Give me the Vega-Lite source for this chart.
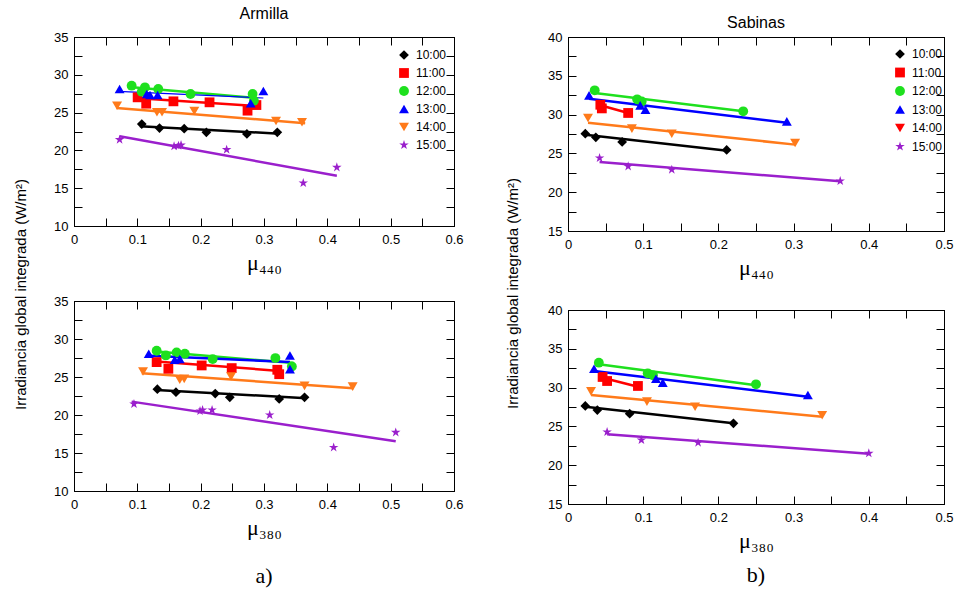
{
"$schema":"https://vega.github.io/schema/vega-lite/v6.json",
"padding":{"left":12,"top":5,"right":0,"bottom":0},
"datasets":{
"pts":[
{"panel":"A440","hour":"10:00","mu":0.107,"irr":23.49},{"panel":"A440","hour":"10:00","mu":0.135,"irr":22.96},{"panel":"A440","hour":"10:00","mu":0.174,"irr":22.87},{"panel":"A440","hour":"10:00","mu":0.209,"irr":22.39},{"panel":"A440","hour":"10:00","mu":0.273,"irr":22.17},{"panel":"A440","hour":"10:00","mu":0.321,"irr":22.39},
{"panel":"A440","hour":"11:00","mu":0.1005,"irr":27.02},{"panel":"A440","hour":"11:00","mu":0.114,"irr":26.18},{"panel":"A440","hour":"11:00","mu":0.157,"irr":26.49},{"panel":"A440","hour":"11:00","mu":0.214,"irr":26.36},{"panel":"A440","hour":"11:00","mu":0.274,"irr":25.26},{"panel":"A440","hour":"11:00","mu":0.288,"irr":26.0},
{"panel":"A440","hour":"12:00","mu":0.091,"irr":28.56},{"panel":"A440","hour":"12:00","mu":0.107,"irr":27.77},{"panel":"A440","hour":"12:00","mu":0.112,"irr":28.34},{"panel":"A440","hour":"12:00","mu":0.133,"irr":28.12},{"panel":"A440","hour":"12:00","mu":0.184,"irr":27.46},{"panel":"A440","hour":"12:00","mu":0.282,"irr":27.46},{"panel":"A440","hour":"12:00","mu":0.284,"irr":26.58},
{"panel":"A440","hour":"13:00","mu":0.072,"irr":28.12},{"panel":"A440","hour":"13:00","mu":0.115,"irr":27.46},{"panel":"A440","hour":"13:00","mu":0.12,"irr":27.33},{"panel":"A440","hour":"13:00","mu":0.132,"irr":27.33},{"panel":"A440","hour":"13:00","mu":0.279,"irr":26.23},{"panel":"A440","hour":"13:00","mu":0.299,"irr":27.86},
{"panel":"A440","hour":"14:00","mu":0.068,"irr":25.91},{"panel":"A440","hour":"14:00","mu":0.131,"irr":25.04},{"panel":"A440","hour":"14:00","mu":0.139,"irr":25.04},{"panel":"A440","hour":"14:00","mu":0.19,"irr":25.21},{"panel":"A440","hour":"14:00","mu":0.319,"irr":23.89},{"panel":"A440","hour":"14:00","mu":0.36,"irr":23.72},
{"panel":"A440","hour":"15:00","mu":0.072,"irr":21.42},{"panel":"A440","hour":"15:00","mu":0.158,"irr":20.54},{"panel":"A440","hour":"15:00","mu":0.165,"irr":20.63},{"panel":"A440","hour":"15:00","mu":0.169,"irr":20.7},{"panel":"A440","hour":"15:00","mu":0.241,"irr":20.1},{"panel":"A440","hour":"15:00","mu":0.362,"irr":15.69},{"panel":"A440","hour":"15:00","mu":0.415,"irr":17.76},
{"panel":"A380","hour":"10:00","mu":0.1316,"irr":23.39},{"panel":"A380","hour":"10:00","mu":0.161,"irr":23.0},{"panel":"A380","hour":"10:00","mu":0.223,"irr":22.82},{"panel":"A380","hour":"10:00","mu":0.246,"irr":22.33},{"panel":"A380","hour":"10:00","mu":0.324,"irr":22.11},{"panel":"A380","hour":"10:00","mu":0.364,"irr":22.33},
{"panel":"A380","hour":"11:00","mu":0.1305,"irr":26.96},{"panel":"A380","hour":"11:00","mu":0.149,"irr":26.08},{"panel":"A380","hour":"11:00","mu":0.2016,"irr":26.52},{"panel":"A380","hour":"11:00","mu":0.249,"irr":26.17},{"panel":"A380","hour":"11:00","mu":0.321,"irr":25.95},{"panel":"A380","hour":"11:00","mu":0.324,"irr":25.37},
{"panel":"A380","hour":"12:00","mu":0.1305,"irr":28.46},{"panel":"A380","hour":"12:00","mu":0.145,"irr":27.84},{"panel":"A380","hour":"12:00","mu":0.162,"irr":28.24},{"panel":"A380","hour":"12:00","mu":0.175,"irr":28.06},{"panel":"A380","hour":"12:00","mu":0.219,"irr":27.36},{"panel":"A380","hour":"12:00","mu":0.318,"irr":27.49},{"panel":"A380","hour":"12:00","mu":0.344,"irr":26.39},
{"panel":"A380","hour":"13:00","mu":0.118,"irr":28.06},{"panel":"A380","hour":"13:00","mu":0.159,"irr":27.27},{"panel":"A380","hour":"13:00","mu":0.167,"irr":27.36},{"panel":"A380","hour":"13:00","mu":0.341,"irr":27.84},{"panel":"A380","hour":"13:00","mu":0.341,"irr":26.04},
{"panel":"A380","hour":"14:00","mu":0.109,"irr":25.73},{"panel":"A380","hour":"14:00","mu":0.167,"irr":24.63},{"panel":"A380","hour":"14:00","mu":0.174,"irr":24.76},{"panel":"A380","hour":"14:00","mu":0.248,"irr":25.07},{"panel":"A380","hour":"14:00","mu":0.364,"irr":23.83},{"panel":"A380","hour":"14:00","mu":0.44,"irr":23.74},
{"panel":"A380","hour":"15:00","mu":0.0947,"irr":21.45},{"panel":"A380","hour":"15:00","mu":0.199,"irr":20.53},{"panel":"A380","hour":"15:00","mu":0.203,"irr":20.66},{"panel":"A380","hour":"15:00","mu":0.218,"irr":20.66},{"panel":"A380","hour":"15:00","mu":0.309,"irr":20.0},{"panel":"A380","hour":"15:00","mu":0.41,"irr":15.73},{"panel":"A380","hour":"15:00","mu":0.508,"irr":17.71},
{"panel":"S440","hour":"10:00","mu":0.023,"irr":27.54},{"panel":"S440","hour":"10:00","mu":0.037,"irr":27.07},{"panel":"S440","hour":"10:00","mu":0.072,"irr":26.47},{"panel":"S440","hour":"10:00","mu":0.211,"irr":25.44},
{"panel":"S440","hour":"11:00","mu":0.043,"irr":31.27},{"panel":"S440","hour":"11:00","mu":0.045,"irr":30.8},{"panel":"S440","hour":"11:00","mu":0.08,"irr":30.21},
{"panel":"S440","hour":"12:00","mu":0.0355,"irr":33.13},{"panel":"S440","hour":"12:00","mu":0.092,"irr":31.97},{"panel":"S440","hour":"12:00","mu":0.098,"irr":31.7},{"panel":"S440","hour":"12:00","mu":0.233,"irr":30.42},
{"panel":"S440","hour":"13:00","mu":0.028,"irr":32.48},{"panel":"S440","hour":"13:00","mu":0.096,"irr":31.19},{"panel":"S440","hour":"13:00","mu":0.103,"irr":30.64},{"panel":"S440","hour":"13:00","mu":0.291,"irr":29.13},
{"panel":"S440","hour":"14:00","mu":0.0266,"irr":29.56},{"panel":"S440","hour":"14:00","mu":0.085,"irr":28.19},{"panel":"S440","hour":"14:00","mu":0.138,"irr":27.54},{"panel":"S440","hour":"14:00","mu":0.302,"irr":26.34},
{"panel":"S440","hour":"15:00","mu":0.042,"irr":24.41},{"panel":"S440","hour":"15:00","mu":0.08,"irr":23.33},{"panel":"S440","hour":"15:00","mu":0.138,"irr":22.9},{"panel":"S440","hour":"15:00","mu":0.362,"irr":21.44},
{"panel":"S380","hour":"10:00","mu":0.023,"irr":27.63},{"panel":"S380","hour":"10:00","mu":0.039,"irr":27.11},{"panel":"S380","hour":"10:00","mu":0.082,"irr":26.64},{"panel":"S380","hour":"10:00","mu":0.22,"irr":25.4},
{"panel":"S380","hour":"11:00","mu":0.046,"irr":31.37},{"panel":"S380","hour":"11:00","mu":0.052,"irr":30.85},{"panel":"S380","hour":"11:00","mu":0.093,"irr":30.21},
{"panel":"S380","hour":"12:00","mu":0.041,"irr":33.21},{"panel":"S380","hour":"12:00","mu":0.106,"irr":31.84},{"panel":"S380","hour":"12:00","mu":0.113,"irr":31.58},{"panel":"S380","hour":"12:00","mu":0.25,"irr":30.42},
{"panel":"S380","hour":"13:00","mu":0.0346,"irr":32.44},{"panel":"S380","hour":"13:00","mu":0.117,"irr":31.15},{"panel":"S380","hour":"13:00","mu":0.126,"irr":30.64},{"panel":"S380","hour":"13:00","mu":0.319,"irr":29.05},
{"panel":"S380","hour":"14:00","mu":0.0306,"irr":29.52},{"panel":"S380","hour":"14:00","mu":0.105,"irr":28.19},{"panel":"S380","hour":"14:00","mu":0.169,"irr":27.54},{"panel":"S380","hour":"14:00","mu":0.338,"irr":26.43},
{"panel":"S380","hour":"15:00","mu":0.052,"irr":24.28},{"panel":"S380","hour":"15:00","mu":0.0976,"irr":23.25},{"panel":"S380","hour":"15:00","mu":0.173,"irr":22.9},{"panel":"S380","hour":"15:00","mu":0.4,"irr":21.53}
],
"fit":[
{"panel":"A440","hour":"10:00","mu":0.104,"irr":23.2},{"panel":"A440","hour":"10:00","mu":0.325,"irr":22.2},
{"panel":"A440","hour":"11:00","mu":0.096,"irr":26.93},{"panel":"A440","hour":"11:00","mu":0.294,"irr":25.83},
{"panel":"A440","hour":"12:00","mu":0.088,"irr":28.39},{"panel":"A440","hour":"12:00","mu":0.288,"irr":26.93},
{"panel":"A440","hour":"13:00","mu":0.07,"irr":27.81},{"panel":"A440","hour":"13:00","mu":0.299,"irr":26.93},
{"panel":"A440","hour":"14:00","mu":0.067,"irr":25.6},{"panel":"A440","hour":"14:00","mu":0.365,"irr":23.6},
{"panel":"A440","hour":"15:00","mu":0.072,"irr":21.86},{"panel":"A440","hour":"15:00","mu":0.415,"irr":16.66},
{"panel":"A380","hour":"10:00","mu":0.13,"irr":23.3},{"panel":"A380","hour":"10:00","mu":0.367,"irr":22.2},
{"panel":"A380","hour":"11:00","mu":0.13,"irr":27.05},{"panel":"A380","hour":"11:00","mu":0.325,"irr":25.8},
{"panel":"A380","hour":"12:00","mu":0.13,"irr":28.37},{"panel":"A380","hour":"12:00","mu":0.346,"irr":26.83},
{"panel":"A380","hour":"13:00","mu":0.12,"irr":27.8},{"panel":"A380","hour":"13:00","mu":0.341,"irr":26.96},
{"panel":"A380","hour":"14:00","mu":0.107,"irr":25.5},{"panel":"A380","hour":"14:00","mu":0.441,"irr":23.52},
{"panel":"A380","hour":"15:00","mu":0.091,"irr":21.76},{"panel":"A380","hour":"15:00","mu":0.508,"irr":16.56},
{"panel":"S440","hour":"10:00","mu":0.023,"irr":27.41},{"panel":"S440","hour":"10:00","mu":0.212,"irr":25.35},
{"panel":"S440","hour":"11:00","mu":0.043,"irr":31.2},{"panel":"S440","hour":"11:00","mu":0.08,"irr":30.2},
{"panel":"S440","hour":"12:00","mu":0.0355,"irr":32.78},{"panel":"S440","hour":"12:00","mu":0.233,"irr":30.42},
{"panel":"S440","hour":"13:00","mu":0.028,"irr":32.05},{"panel":"S440","hour":"13:00","mu":0.294,"irr":28.92},
{"panel":"S440","hour":"14:00","mu":0.0266,"irr":28.96},{"panel":"S440","hour":"14:00","mu":0.302,"irr":26.13},
{"panel":"S440","hour":"15:00","mu":0.042,"irr":23.9},{"panel":"S440","hour":"15:00","mu":0.362,"irr":21.4},
{"panel":"S380","hour":"10:00","mu":0.023,"irr":27.54},{"panel":"S380","hour":"10:00","mu":0.22,"irr":25.4},
{"panel":"S380","hour":"11:00","mu":0.046,"irr":31.28},{"panel":"S380","hour":"11:00","mu":0.093,"irr":30.12},
{"panel":"S380","hour":"12:00","mu":0.041,"irr":33.0},{"panel":"S380","hour":"12:00","mu":0.25,"irr":30.29},
{"panel":"S380","hour":"13:00","mu":0.0346,"irr":32.14},{"panel":"S380","hour":"13:00","mu":0.319,"irr":28.83},
{"panel":"S380","hour":"14:00","mu":0.0306,"irr":29.05},{"panel":"S380","hour":"14:00","mu":0.338,"irr":26.25},
{"panel":"S380","hour":"15:00","mu":0.052,"irr":23.98},{"panel":"S380","hour":"15:00","mu":0.4,"irr":21.49}
]
},
"spacing":40,
"resolve":{"scale":{"color":"independent","fill":"independent","shape":"independent","size":"independent"},"legend":{"color":"independent","fill":"independent","shape":"independent","size":"independent"}},
"hconcat":[
{"vconcat":[
{"width":380,"height":189,
"title":{"text":"Armilla","fontSize":16,"fontWeight":"normal","font":"Liberation Sans","anchor":"middle","offset":9,"color":"black"},
"resolve":{"axis":{"x":"independent","y":"independent"}},
"layer":[
{"data":{"name":"pts"},"transform":[{"filter":"false"}],"mark":{"type":"point","filled":true,"size":60,"opacity":1,"strokeWidth":0},
"encoding":{
"x":{"field":"mu","type":"quantitative","scale":{"domain":[0,0.6],"nice":false,"zero":false},"axis":{"orient":"top","values":[0,0.05,0.1,0.15,0.2,0.25,0.3,0.35,0.4,0.45,0.5,0.55,0.6],"labels":false,"tickSize":-8,"title":null,"grid":false,"tickColor":"black","domainColor":"black"}},
"y":{"field":"irr","type":"quantitative","scale":{"domain":[10,35],"nice":false,"zero":false},"axis":{"orient":"right","values":[10,12.5,15,17.5,20,22.5,25,27.5,30,32.5,35],"labels":false,"tickSize":-8,"title":null,"grid":false,"tickColor":"black","domainColor":"black"}},
"fill":{"field":"hour","type":"nominal","scale":{"domain":["10:00","11:00","12:00","13:00","14:00","15:00"],"range":["#000000","#ff0000","#1ee01e","#0000ff","#ff7a1a","#9a1fcc"]},"legend":{"title":null,"orient":"none","legendX":324,"legendY":12,"padding":0,"rowPadding":6,"symbolSize":60,"symbolStrokeWidth":0,"labelFontSize":12,"labelFont":"Liberation Sans","labelColor":"black","labelOffset":6}},
"shape":{"field":"hour","type":"nominal","scale":{"domain":["10:00","11:00","12:00","13:00","14:00","15:00"],"range":["diamond","square","circle","triangle-up","triangle-down","M0,-1L0.2245,-0.309L0.951,-0.309L0.363,0.118L0.588,0.809L0,0.382L-0.588,0.809L-0.363,0.118L-0.951,-0.309L-0.2245,-0.309Z"]},"legend":{"title":null,"orient":"none","legendX":324,"legendY":12,"padding":0,"rowPadding":6,"symbolSize":60,"symbolStrokeWidth":0,"labelFontSize":12,"labelFont":"Liberation Sans","labelColor":"black","labelOffset":6}}}},
{"data":{"name":"fit"},"transform":[{"filter":"datum.panel=='A440' && datum.hour!='13:00'"}],"mark":{"type":"line","strokeWidth":2.5},
"encoding":{
"x":{"field":"mu","type":"quantitative","axis":{"orient":"bottom","values":[0,0.05,0.1,0.15,0.2,0.25,0.3,0.35,0.4,0.45,0.5,0.55,0.6],"labelExpr":"round(datum.value*100) % 10 == 0 ? '' + datum.value : ''","tickSize":-8,"labelPadding":15,"labelFlush":false,"labelOverlap":false,"labelFontSize":13,"labelFont":"Liberation Sans","labelColor":"black","tickColor":"black","domainColor":"black","grid":false,"title":"μ₄₄₀","titleFont":"Liberation Serif","titleFontSize":22,"titleFontWeight":"normal","titleColor":"black","titlePadding":6}},
"y":{"field":"irr","type":"quantitative","axis":{"orient":"left","values":[10,12.5,15,17.5,20,22.5,25,27.5,30,32.5,35],"labelExpr":"datum.value % 5 == 0 ? '' + datum.value : ''","tickSize":-8,"labelPadding":14,"labelOverlap":false,"labelFontSize":13,"labelFont":"Liberation Sans","labelColor":"black","tickColor":"black","domainColor":"black","grid":false,"title":"Irradiancia global integrada (W/m²)","titleFont":"Liberation Sans","titleFontSize":15,"titleFontWeight":"normal","titleColor":"black","titleAngle":270,"titleAlign":"center","titleBaseline":"middle","titleX":-54,"titleY":257}},
"color":{"field":"hour","type":"nominal","scale":{"domain":["10:00","11:00","12:00","13:00","14:00","15:00"],"range":["#000000","#ff0000","#1ee01e","#0000ff","#ff7a1a","#9a1fcc"]},"legend":null}}},
{"data":{"name":"fit"},"transform":[{"filter":"datum.panel=='A440' && datum.hour=='13:00'"}],"mark":{"type":"line","strokeWidth":1.2},
"encoding":{
"x":{"field":"mu","type":"quantitative","axis":null},
"y":{"field":"irr","type":"quantitative","axis":null},
"color":{"field":"hour","type":"nominal","legend":null}}},
{"data":{"name":"pts"},"transform":[{"filter":"datum.panel=='A440'"}],"mark":{"type":"point","filled":true,"opacity":1,"strokeWidth":0},
"encoding":{
"x":{"field":"mu","type":"quantitative","axis":null},
"y":{"field":"irr","type":"quantitative","axis":null},
"color":{"field":"hour","type":"nominal","legend":null},
"size":{"field":"hour","type":"nominal","scale":{"domain":["10:00","11:00","12:00","13:00","14:00","15:00"],"range":[95,100,95,90,90,190]},"legend":null},
"shape":{"field":"hour","type":"nominal","legend":null}}}
]},
{"width":380,"height":190,
"title":{"text":"a)","orient":"bottom","fontSize":22,"fontWeight":"normal","font":"Liberation Serif","anchor":"middle","offset":28,"color":"black"},
"resolve":{"axis":{"x":"independent","y":"independent"}},
"layer":[
{"data":{"name":"pts"},"transform":[{"filter":"false"}],"mark":{"type":"point","filled":true,"opacity":1},
"encoding":{
"x":{"field":"mu","type":"quantitative","scale":{"domain":[0,0.6],"nice":false,"zero":false},"axis":{"orient":"top","values":[0,0.05,0.1,0.15,0.2,0.25,0.3,0.35,0.4,0.45,0.5,0.55,0.6],"labels":false,"tickSize":-8,"title":null,"grid":false,"tickColor":"black","domainColor":"black"}},
"y":{"field":"irr","type":"quantitative","scale":{"domain":[10,35],"nice":false,"zero":false},"axis":{"orient":"right","values":[10,12.5,15,17.5,20,22.5,25,27.5,30,32.5,35],"labels":false,"tickSize":-8,"title":null,"grid":false,"tickColor":"black","domainColor":"black"}}}},
{"data":{"name":"fit"},"transform":[{"filter":"datum.panel=='A380'"}],"mark":{"type":"line","strokeWidth":2.5},
"encoding":{
"x":{"field":"mu","type":"quantitative","axis":{"orient":"bottom","values":[0,0.05,0.1,0.15,0.2,0.25,0.3,0.35,0.4,0.45,0.5,0.55,0.6],"labelExpr":"round(datum.value*100) % 10 == 0 ? '' + datum.value : ''","tickSize":-8,"labelPadding":15,"labelFlush":false,"labelOverlap":false,"labelFontSize":13,"labelFont":"Liberation Sans","labelColor":"black","tickColor":"black","domainColor":"black","grid":false,"title":"μ₃₈₀","titleFont":"Liberation Serif","titleFontSize":22,"titleFontWeight":"normal","titleColor":"black","titlePadding":6}},
"y":{"field":"irr","type":"quantitative","axis":{"orient":"left","values":[10,12.5,15,17.5,20,22.5,25,27.5,30,32.5,35],"labelExpr":"datum.value % 5 == 0 ? '' + datum.value : ''","tickSize":-8,"labelPadding":14,"labelOverlap":false,"labelFontSize":13,"labelFont":"Liberation Sans","labelColor":"black","tickColor":"black","domainColor":"black","grid":false,"title":null}},
"color":{"field":"hour","type":"nominal","scale":{"domain":["10:00","11:00","12:00","13:00","14:00","15:00"],"range":["#000000","#ff0000","#1ee01e","#0000ff","#ff7a1a","#9a1fcc"]},"legend":null}}},
{"data":{"name":"pts"},"transform":[{"filter":"datum.panel=='A380'"}],"mark":{"type":"point","filled":true,"opacity":1,"strokeWidth":0},
"encoding":{
"x":{"field":"mu","type":"quantitative","axis":null},
"y":{"field":"irr","type":"quantitative","axis":null},
"color":{"field":"hour","type":"nominal","legend":null},
"size":{"field":"hour","type":"nominal","scale":{"domain":["10:00","11:00","12:00","13:00","14:00","15:00"],"range":[95,100,95,90,90,190]},"legend":null},
"shape":{"field":"hour","type":"nominal","scale":{"domain":["10:00","11:00","12:00","13:00","14:00","15:00"],"range":["diamond","square","circle","triangle-up","triangle-down","M0,-1L0.2245,-0.309L0.951,-0.309L0.363,0.118L0.588,0.809L0,0.382L-0.588,0.809L-0.363,0.118L-0.951,-0.309L-0.2245,-0.309Z"]},"legend":null}}}
]}
],"spacing":75,"bounds":"flush","resolve":{"scale":{"color":"independent","fill":"independent","shape":"independent","size":"independent"},"legend":{"color":"independent","fill":"independent","shape":"independent","size":"independent"}}},
{"vconcat":[
{"width":376,"height":194,
"title":{"text":"Sabinas","fontSize":16,"fontWeight":"normal","font":"Liberation Sans","anchor":"middle","offset":0,"color":"black"},
"resolve":{"axis":{"x":"independent","y":"independent"}},
"layer":[
{"data":{"name":"pts"},"transform":[{"filter":"false"}],"mark":{"type":"point","filled":true,"size":60,"opacity":1,"strokeWidth":0},
"encoding":{
"x":{"field":"mu","type":"quantitative","scale":{"domain":[0,0.5],"nice":false,"zero":false},"axis":{"orient":"top","values":[0,0.05,0.1,0.15,0.2,0.25,0.3,0.35,0.4,0.45,0.5],"labels":false,"tickSize":-8,"title":null,"grid":false,"tickColor":"black","domainColor":"black"}},
"y":{"field":"irr","type":"quantitative","scale":{"domain":[15,40],"nice":false,"zero":false},"axis":{"orient":"right","values":[15,17.5,20,22.5,25,27.5,30,32.5,35,37.5,40],"labels":false,"tickSize":-8,"title":null,"grid":false,"tickColor":"black","domainColor":"black"}},
"fill":{"field":"hour","type":"nominal","scale":{"domain":["10:00","11:00","12:00","13:00","14:00","15:00"],"range":["#000000","#ff0000","#1ee01e","#0000ff","#ff0000","#9a1fcc"]},"legend":{"title":null,"orient":"none","legendX":326,"legendY":11,"padding":0,"rowPadding":6.5,"symbolSize":60,"symbolStrokeWidth":0,"labelFontSize":12,"labelFont":"Liberation Sans","labelColor":"black","labelOffset":6}},
"shape":{"field":"hour","type":"nominal","scale":{"domain":["10:00","11:00","12:00","13:00","14:00","15:00"],"range":["diamond","square","circle","triangle-up","triangle-down","M0,-1L0.2245,-0.309L0.951,-0.309L0.363,0.118L0.588,0.809L0,0.382L-0.588,0.809L-0.363,0.118L-0.951,-0.309L-0.2245,-0.309Z"]},"legend":{"title":null,"orient":"none","legendX":326,"legendY":11,"padding":0,"rowPadding":6.5,"symbolSize":60,"symbolStrokeWidth":0,"labelFontSize":12,"labelFont":"Liberation Sans","labelColor":"black","labelOffset":6}}}},
{"data":{"name":"fit"},"transform":[{"filter":"datum.panel=='S440'"}],"mark":{"type":"line","strokeWidth":2.5},
"encoding":{
"x":{"field":"mu","type":"quantitative","axis":{"orient":"bottom","values":[0,0.05,0.1,0.15,0.2,0.25,0.3,0.35,0.4,0.45,0.5],"labelExpr":"round(datum.value*100) % 10 == 0 ? '' + datum.value : ''","tickSize":-8,"labelPadding":15,"labelFlush":false,"labelOverlap":false,"labelFontSize":13,"labelFont":"Liberation Sans","labelColor":"black","tickColor":"black","domainColor":"black","grid":false,"title":"μ₄₄₀","titleFont":"Liberation Serif","titleFontSize":22,"titleFontWeight":"normal","titleColor":"black","titlePadding":6}},
"y":{"field":"irr","type":"quantitative","axis":{"orient":"left","values":[15,17.5,20,22.5,25,27.5,30,32.5,35,37.5,40],"labelExpr":"datum.value % 5 == 0 ? '' + datum.value : ''","tickSize":-8,"labelPadding":14,"labelOverlap":false,"labelFontSize":13,"labelFont":"Liberation Sans","labelColor":"black","tickColor":"black","domainColor":"black","grid":false,"title":"Irradiancia global integrada (W/m²)","titleFont":"Liberation Sans","titleFontSize":15,"titleFontWeight":"normal","titleColor":"black","titleAngle":270,"titleAlign":"center","titleBaseline":"middle","titleX":-56,"titleY":256}},
"color":{"field":"hour","type":"nominal","scale":{"domain":["10:00","11:00","12:00","13:00","14:00","15:00"],"range":["#000000","#ff0000","#1ee01e","#0000ff","#ff7a1a","#9a1fcc"]},"legend":null}}},
{"data":{"name":"pts"},"transform":[{"filter":"datum.panel=='S440'"}],"mark":{"type":"point","filled":true,"opacity":1,"strokeWidth":0},
"encoding":{
"x":{"field":"mu","type":"quantitative","axis":null},
"y":{"field":"irr","type":"quantitative","axis":null},
"color":{"field":"hour","type":"nominal","legend":null},
"size":{"field":"hour","type":"nominal","scale":{"domain":["10:00","11:00","12:00","13:00","14:00","15:00"],"range":[95,100,95,90,90,190]},"legend":null},
"shape":{"field":"hour","type":"nominal","legend":null}}}
]},
{"width":376,"height":194,
"title":{"text":"b)","orient":"bottom","fontSize":22,"fontWeight":"normal","font":"Liberation Serif","anchor":"middle","offset":14,"color":"black"},
"resolve":{"axis":{"x":"independent","y":"independent"}},
"layer":[
{"data":{"name":"pts"},"transform":[{"filter":"false"}],"mark":{"type":"point","filled":true,"opacity":1},
"encoding":{
"x":{"field":"mu","type":"quantitative","scale":{"domain":[0,0.5],"nice":false,"zero":false},"axis":{"orient":"top","values":[0,0.05,0.1,0.15,0.2,0.25,0.3,0.35,0.4,0.45,0.5],"labels":false,"tickSize":-8,"title":null,"grid":false,"tickColor":"black","domainColor":"black"}},
"y":{"field":"irr","type":"quantitative","scale":{"domain":[15,40],"nice":false,"zero":false},"axis":{"orient":"right","values":[15,17.5,20,22.5,25,27.5,30,32.5,35,37.5,40],"labels":false,"tickSize":-8,"title":null,"grid":false,"tickColor":"black","domainColor":"black"}}}},
{"data":{"name":"fit"},"transform":[{"filter":"datum.panel=='S380'"}],"mark":{"type":"line","strokeWidth":2.5},
"encoding":{
"x":{"field":"mu","type":"quantitative","axis":{"orient":"bottom","values":[0,0.05,0.1,0.15,0.2,0.25,0.3,0.35,0.4,0.45,0.5],"labelExpr":"round(datum.value*100) % 10 == 0 ? '' + datum.value : ''","tickSize":-8,"labelPadding":15,"labelFlush":false,"labelOverlap":false,"labelFontSize":13,"labelFont":"Liberation Sans","labelColor":"black","tickColor":"black","domainColor":"black","grid":false,"title":"μ₃₈₀","titleFont":"Liberation Serif","titleFontSize":22,"titleFontWeight":"normal","titleColor":"black","titlePadding":6}},
"y":{"field":"irr","type":"quantitative","axis":{"orient":"left","values":[15,17.5,20,22.5,25,27.5,30,32.5,35,37.5,40],"labelExpr":"datum.value % 5 == 0 ? '' + datum.value : ''","tickSize":-8,"labelPadding":14,"labelOverlap":false,"labelFontSize":13,"labelFont":"Liberation Sans","labelColor":"black","tickColor":"black","domainColor":"black","grid":false,"title":null}},
"color":{"field":"hour","type":"nominal","scale":{"domain":["10:00","11:00","12:00","13:00","14:00","15:00"],"range":["#000000","#ff0000","#1ee01e","#0000ff","#ff7a1a","#9a1fcc"]},"legend":null}}},
{"data":{"name":"pts"},"transform":[{"filter":"datum.panel=='S380'"}],"mark":{"type":"point","filled":true,"opacity":1,"strokeWidth":0},
"encoding":{
"x":{"field":"mu","type":"quantitative","axis":null},
"y":{"field":"irr","type":"quantitative","axis":null},
"color":{"field":"hour","type":"nominal","legend":null},
"size":{"field":"hour","type":"nominal","scale":{"domain":["10:00","11:00","12:00","13:00","14:00","15:00"],"range":[95,100,95,90,90,190]},"legend":null},
"shape":{"field":"hour","type":"nominal","scale":{"domain":["10:00","11:00","12:00","13:00","14:00","15:00"],"range":["diamond","square","circle","triangle-up","triangle-down","M0,-1L0.2245,-0.309L0.951,-0.309L0.363,0.118L0.588,0.809L0,0.382L-0.588,0.809L-0.363,0.118L-0.951,-0.309L-0.2245,-0.309Z"]},"legend":null}}}
]}
],"spacing":79,"bounds":"flush","resolve":{"scale":{"color":"independent","fill":"independent","shape":"independent","size":"independent"},"legend":{"color":"independent","fill":"independent","shape":"independent","size":"independent"}}}
],
"config":{"view":{"stroke":"black","strokeWidth":1},"axis":{"domainWidth":1,"tickWidth":1},"font":"Liberation Sans","background":"white"}
}
